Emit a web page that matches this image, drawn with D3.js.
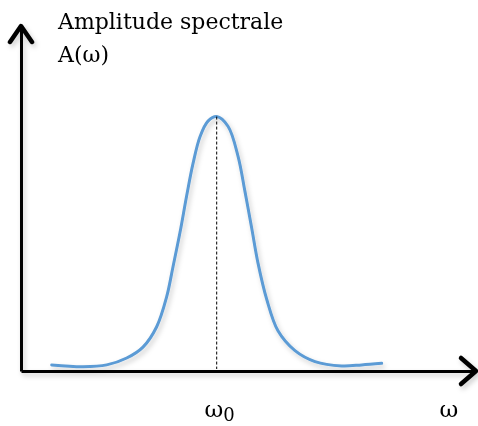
<!DOCTYPE html>
<html>
<head>
<meta charset="utf-8">
<script src="https://cdn.jsdelivr.net/npm/d3@7"></script>
<style>
  body { margin: 0; background: #fff; }
  text { font-family: "DejaVu Serif", serif; fill: #000; }
</style>
</head>
<body>
<div id="chart"></div>
<script>
// curve samples (omega in axis units, amplitude with peak = 1)
var omega = [0.675, 1.363, 1.884, 2.323, 2.681, 2.982, 3.202, 3.341, 3.495, 3.642, 3.780, 3.934, 4.110, 4.301,
             4.549, 4.769, 4.923, 5.070, 5.209, 5.400, 5.648, 6.022, 6.462, 7.048, 7.488, 7.927];
var amplitude = [0.024, 0.017, 0.024, 0.051, 0.094, 0.174, 0.292, 0.410, 0.545, 0.690, 0.815, 0.921, 0.982, 1.0,
                 0.962, 0.845, 0.705, 0.562, 0.424, 0.282, 0.158, 0.080, 0.037, 0.020, 0.024, 0.030];
var omega0 = 4.301;
var yLabel = ["Amplitude spectrale", "A(\u03c9)"];
var xLabel = "\u03c9";

var svgWidth = 478, svgHeight = 426;

var svg = d3.select("#chart").append("svg")
    .attr("width", svgWidth)
    .attr("height", svgHeight);

// soft drop shadow like the office drawing
var defs = svg.append("defs");
defs.append("filter")
    .attr("id", "shadow")
    .attr("x", "-20%").attr("y", "-20%")
    .attr("width", "140%").attr("height", "140%")
  .append("feDropShadow")
    .attr("dx", 2).attr("dy", 3)
    .attr("stdDeviation", 2.5)
    .attr("flood-color", "#000")
    .attr("flood-opacity", 0.2);

var data = omega.map((w, i) => ({w: w, a: amplitude[i]}));

var x = d3.scaleLinear().domain([0, 10]).range([21, 476]);
var y = d3.scaleLinear().domain([0, 1.356]).range([371, 26]);

var g = svg.append("g").attr("filter", "url(#shadow)");

// axes without ticks
var xAxis = d3.axisBottom(x).tickValues([]).tickSizeOuter(0);
var yAxis = d3.axisLeft(y).tickValues([]).tickSizeOuter(0);

g.append("g")
    .attr("transform", `translate(0, ${y(0)})`)
    .call(xAxis)
    .select(".domain")
    .attr("stroke", "#000")
    .attr("stroke-width", 3);

g.append("g")
    .attr("transform", `translate(${x(0)}, 0)`)
    .call(yAxis)
    .select(".domain")
    .attr("stroke", "#000")
    .attr("stroke-width", 3);

// arrow heads at the ends of the axes
var xEnd = x.range()[1], yEnd = y.range()[1];
g.append("path")
    .attr("d", `M${xEnd - 15},${y(0) - 13}L${xEnd},${y(0)}L${xEnd - 15},${y(0) + 13}`)
    .attr("fill", "none")
    .attr("stroke", "#000")
    .attr("stroke-width", 4.5)
    .attr("stroke-linecap", "round")
    .attr("stroke-linejoin", "round");

g.append("path")
    .attr("d", `M${x(0) - 11},${yEnd + 16}L${x(0)},${yEnd}L${x(0) + 11},${yEnd + 16}`)
    .attr("fill", "none")
    .attr("stroke", "#000")
    .attr("stroke-width", 4.5)
    .attr("stroke-linecap", "round")
    .attr("stroke-linejoin", "round");

// dashed line at the peak
svg.append("line")
    .attr("x1", x(omega0)).attr("x2", x(omega0))
    .attr("y1", y(1)).attr("y2", y(0) - 2)
    .attr("stroke", "#000")
    .attr("stroke-width", 1)
    .attr("stroke-dasharray", "3,2");

// the spectral line
var line = d3.line()
    .x(d => x(d.w))
    .y(d => y(d.a))
    .curve(d3.curveCatmullRom.alpha(0.5));

g.append("path")
    .datum(data)
    .attr("d", line)
    .attr("fill", "none")
    .attr("stroke", "#5B9BD5")
    .attr("stroke-width", 3)
    .attr("stroke-linecap", "round");

// labels
svg.append("text")
    .attr("x", 58).attr("y", 29)
    .attr("font-size", 22)
    .text(yLabel[0]);

svg.append("text")
    .attr("x", 58).attr("y", 62)
    .attr("font-size", 22)
    .text(yLabel[1]);

var w0 = svg.append("text")
    .attr("x", x(omega0) + 3).attr("y", 417)
    .attr("text-anchor", "middle")
    .attr("font-size", 23);
w0.append("tspan").text(xLabel);
w0.append("tspan").attr("font-size", 18).attr("dy", 4).text("0");

svg.append("text")
    .attr("x", 449).attr("y", 417)
    .attr("text-anchor", "middle")
    .attr("font-size", 23)
    .text(xLabel);
</script>
</body>
</html>
